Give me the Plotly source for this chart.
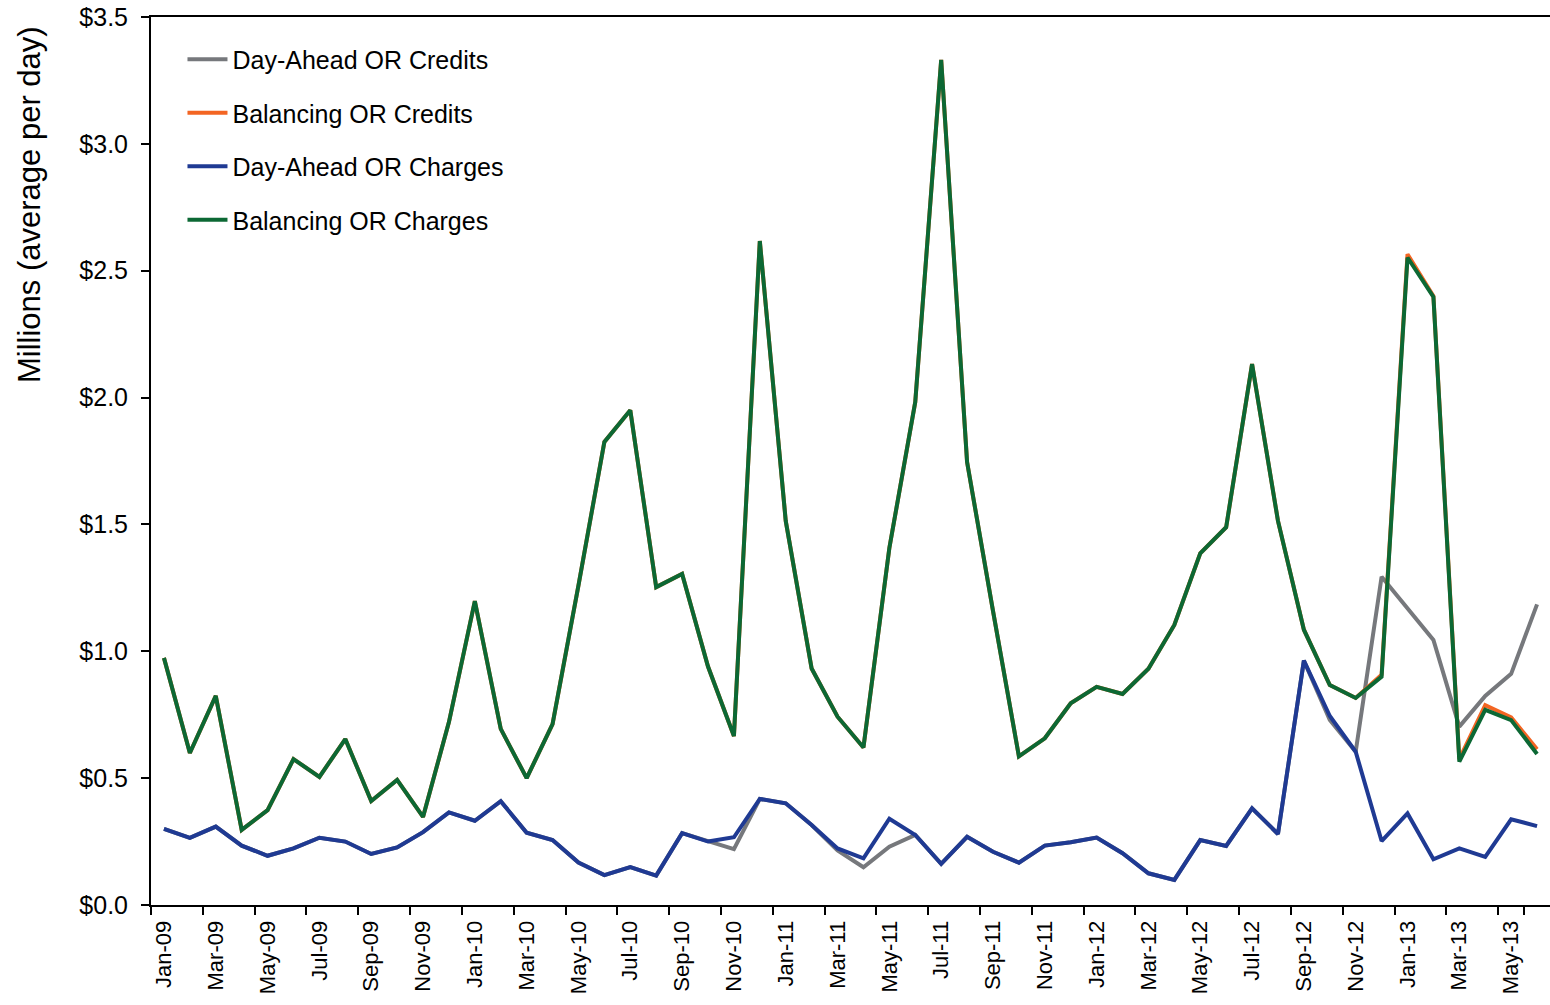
import plotly.graph_objects as go

months = ["Jan-09","Feb-09","Mar-09","Apr-09","May-09","Jun-09","Jul-09","Aug-09","Sep-09","Oct-09","Nov-09","Dec-09",
          "Jan-10","Feb-10","Mar-10","Apr-10","May-10","Jun-10","Jul-10","Aug-10","Sep-10","Oct-10","Nov-10","Dec-10",
          "Jan-11","Feb-11","Mar-11","Apr-11","May-11","Jun-11","Jul-11","Aug-11","Sep-11","Oct-11","Nov-11","Dec-11",
          "Jan-12","Feb-12","Mar-12","Apr-12","May-12","Jun-12","Jul-12","Aug-12","Sep-12","Oct-12","Nov-12","Dec-12",
          "Jan-13","Feb-13","Mar-13","Apr-13","May-13","Jun-13"]

bal_charges = [0.974,0.599,0.824,0.296,0.374,0.575,0.505,0.654,0.410,0.493,0.347,0.721,
               1.198,0.694,0.500,0.713,1.260,1.825,1.950,1.253,1.305,0.940,0.666,2.617,
               1.514,0.932,0.742,0.621,1.407,1.983,3.331,1.746,1.159,0.586,0.657,0.795,
               0.860,0.832,0.931,1.104,1.386,1.489,2.132,1.514,1.085,0.867,0.816,0.900,
               2.552,2.397,0.565,0.769,0.729,0.595]

bal_credits = [0.974,0.599,0.824,0.296,0.374,0.575,0.505,0.654,0.410,0.493,0.347,0.721,
               1.198,0.694,0.500,0.713,1.260,1.825,1.950,1.253,1.305,0.940,0.666,2.617,
               1.514,0.932,0.742,0.621,1.407,1.983,3.331,1.746,1.159,0.586,0.657,0.795,
               0.860,0.832,0.931,1.104,1.386,1.489,2.132,1.514,1.085,0.867,0.816,0.908,
               2.565,2.400,0.575,0.788,0.740,0.614]

da_charges = [0.300,0.265,0.309,0.234,0.194,0.223,0.265,0.250,0.201,0.227,0.287,0.365,
              0.332,0.409,0.285,0.256,0.167,0.118,0.149,0.116,0.283,0.250,0.267,0.418,
              0.401,0.315,0.223,0.184,0.340,0.276,0.162,0.269,0.210,0.167,0.234,0.247,
              0.266,0.204,0.125,0.099,0.256,0.233,0.381,0.280,0.963,0.745,0.604,0.252,
              0.361,0.180,0.223,0.190,0.338,0.311]

da_credits = [0.300,0.265,0.309,0.234,0.194,0.223,0.265,0.250,0.201,0.227,0.287,0.365,
              0.332,0.409,0.285,0.256,0.167,0.118,0.149,0.116,0.283,0.250,0.220,0.418,
              0.401,0.315,0.215,0.149,0.230,0.276,0.162,0.269,0.210,0.167,0.234,0.247,
              0.266,0.204,0.125,0.099,0.256,0.233,0.381,0.280,0.963,0.729,0.604,1.294,
              1.170,1.045,0.703,0.824,0.911,1.185]

tick_labels = months[::2]

series = [
    ("Day-Ahead OR Credits", da_credits, "#76787c"),
    ("Balancing OR Credits", bal_credits, "#f36523"),
    ("Day-Ahead OR Charges", da_charges, "#1f3a93"),
    ("Balancing OR Charges", bal_charges, "#0c6834"),
]

fig = go.Figure()
for i, (name, vals, col) in enumerate(series):
    fig.add_trace(go.Scatter(x=months, y=vals, name=name, mode="lines",
                             line=dict(color=col, width=4), legendgroup=str(i)))

font_family = "Liberation Sans, Arial, sans-serif"
fig.update_layout(
    width=1550, height=1005,
    margin=dict(l=151, r=0, t=17, b=100),
    paper_bgcolor="white", plot_bgcolor="white",
    font=dict(family=font_family, color="black"),
    showlegend=True,
    legend=dict(x=0.0225, y=0.978, xanchor="left", yanchor="top",
                bgcolor="rgba(0,0,0,0)", font=dict(size=25, family=font_family),
                tracegroupgap=18, itemwidth=40),
    xaxis=dict(type="category", range=[-0.5, len(months) - 0.5],
               tickmode="array", tickvals=tick_labels, ticktext=tick_labels,
               tickson="boundaries", ticks="outside", ticklen=8, tickwidth=1.5,
               tickcolor="black", tickangle=-90, tickfont=dict(size=22),
               ticklabelstandoff=5,
               showline=True, linecolor="black", linewidth=2, mirror=True,
               showgrid=False, zeroline=False, automargin=False),
    yaxis=dict(range=[0, 3.5], tickmode="linear", tick0=0, dtick=0.5,
               tickformat="$.1f", ticks="outside", ticklen=8, tickwidth=1.5,
               tickcolor="black", tickfont=dict(size=25), ticklabelstandoff=8,
               showline=True, linecolor="black", linewidth=2,
               showgrid=False, zeroline=False, automargin=False),
    annotations=[dict(text="Millions (average per day)", textangle=-90,
                      xref="paper", yref="paper", x=(30 - 151) / 1399, y=(905 - 205) / 888,
                      xanchor="center", yanchor="middle", showarrow=False,
                      font=dict(size=31, family=font_family, color="black"))],
)

fig.write_html("out.html", config={"displayModeBar": False},
               post_script="document.body.style.margin='0';document.documentElement.style.overflow='hidden';document.body.style.overflow='hidden';")
